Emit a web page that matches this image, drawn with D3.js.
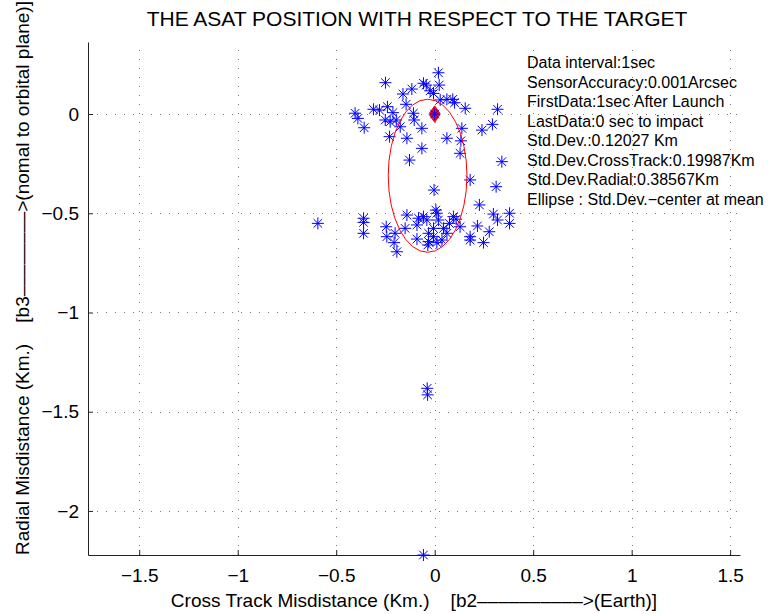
<!DOCTYPE html>
<html>
<head>
<meta charset="utf-8">
<script src="https://cdn.jsdelivr.net/npm/d3@7"></script>
<style>
html,body{margin:0;padding:0;background:#fff;}
svg{display:block;font-family:"Liberation Sans",Arial,Helvetica,sans-serif;}
svg text{white-space:pre;}
</style>
</head>
<body>
<svg id="chart" width="776" height="614"></svg>
<script>
// ---- data ----
const crossTrack = [
 0.019,-0.250,-0.057,-0.043,0.023,-0.116,-0.161,-0.023,-0.006,0.028,0.062,0.092,0.101,0.155,0.319,
 -0.145,-0.311,-0.404,-0.390,-0.358,-0.280,-0.240,-0.212,-0.251,-0.226,-0.195,-0.175,-0.229,-0.141,
 -0.108,-0.104,-0.065,-0.065,-0.128,0.000,0.138,0.062,0.133,0.129,0.240,0.293,0.341,0.180,-0.003,0.312,0.227,
 -0.593,-0.361,-0.361,-0.361,-0.246,-0.243,-0.201,-0.206,-0.192,-0.141,-0.150,-0.082,-0.090,-0.090,
 -0.040,-0.031,-0.031,-0.006,0.006,0.011,0.019,-0.006,0.037,0.045,0.062,0.075,0.095,0.109,0.129,
 0.180,0.180,0.217,0.277,0.248,0.298,0.319,0.380,0.380,-0.035,0.011,-0.057,
 -0.038,-0.036,-0.057
];
const radial = [
 0.208,0.158,0.155,0.146,0.146,0.126,0.101,0.117,0.104,0.071,0.074,0.074,0.057,0.029,0.024,
 0.049,0.024,0.004,-0.022,-0.069,0.020,0.037,0.007,-0.030,-0.039,-0.030,-0.064,-0.114,-0.122,
 0.004,-0.030,-0.072,-0.173,-0.232,0.000,-0.072,-0.122,-0.135,-0.198,-0.081,-0.052,-0.240,-0.332,-0.383,-0.366,-0.458,
 -0.551,-0.525,-0.546,-0.601,-0.568,-0.618,-0.601,-0.648,-0.694,-0.509,-0.576,-0.525,-0.559,-0.630,
 -0.534,-0.601,-0.643,-0.576,-0.484,-0.500,-0.534,-0.618,-0.635,-0.576,-0.601,-0.551,-0.517,-0.530,-0.568,
 -0.618,-0.635,-0.564,-0.593,-0.648,-0.504,-0.534,-0.500,-0.551,-0.660,-0.648,-0.517,
 -1.382,-1.415,-2.222
];
const targetX = [0, 0];
const targetY = [0.006, -0.006];
const ellipseCenter = [-0.036, -0.311];
const stdCrossTrack = 0.19987;
const stdRadial = 0.38567;
const xTicks = [-1.5,-1,-0.5,0,0.5,1,1.5];
const yTicks = [0,-0.5,-1,-1.5,-2];
const xDomain = [-1.76, 1.55];
const yDomain = [-2.222, 0.363];
const infoLines = [
 "Data interval:1sec",
 "SensorAccuracy:0.001Arcsec",
 "FirstData:1sec After Launch",
 "LastData:0 sec to impact",
 "Std.Dev.:0.12027 Km",
 "Std.Dev.CrossTrack:0.19987Km",
 "Std.Dev.Radial:0.38567Km",
 "Ellipse : Std.Dev.\u2212center at mean"
];
const titleText = "THE ASAT POSITION WITH RESPECT TO THE TARGET";
const xLabel = "Cross Track Misdistance (Km.)    [b2\u2013\u2013\u2013\u2013\u2013\u2013\u2013\u2013\u2013\u2013>(Earth)]";
const yLabel = "Radial Misdistance (Km.)    [b3\u2013\u2013\u2013\u2013\u2013\u2013\u2013\u2013>(nomal to orbital plane)]";

// ---- layout ----
const L = 88, R = 740, T = 42, B = 555;
const svg = d3.select("#chart");
const x = d3.scaleLinear().domain(xDomain).range([L, R]);
const y = d3.scaleLinear().domain(yDomain).range([B, T]);
const fmt = d => d === 0 ? "0" : (d < 0 ? "\u2212" + Math.abs(d) : String(d));

// grid
const grid = svg.append("g").attr("stroke", "#7a7a7a").attr("stroke-width", 1)
  .attr("stroke-dasharray", "1,8");
grid.selectAll("line.vx").data(xTicks).join("line")
  .attr("x1", d => Math.round(x(d)) + 0.5).attr("x2", d => Math.round(x(d)) + 0.5)
  .attr("y1", B).attr("y2", T);
grid.selectAll("line.hy").data(yTicks).join("line")
  .attr("y1", d => Math.round(y(d)) + 0.5).attr("y2", d => Math.round(y(d)) + 0.5)
  .attr("x1", L).attr("x2", R);

// axes
const xAxis = d3.axisBottom(x).tickValues(xTicks).tickSizeInner(-5).tickSizeOuter(0).tickPadding(14).tickFormat(fmt);
const yAxis = d3.axisLeft(y).tickValues(yTicks).tickSizeInner(-5).tickSizeOuter(0).tickPadding(9).tickFormat(fmt);
const gx = svg.append("g").attr("transform", `translate(0,${B})`).call(xAxis);
const gy = svg.append("g").attr("transform", `translate(${L},0)`).call(yAxis);
[gx, gy].forEach(g => {
  g.select(".domain").attr("stroke", "#222").attr("stroke-width", 1);
  g.selectAll(".tick line").attr("stroke", "#222");
  g.selectAll(".tick text").attr("fill", "#000").style("font-size", "19px")
    .style("font-family", "'Liberation Sans',Arial,sans-serif");
});

// plot area clip
svg.append("clipPath").attr("id", "clip").append("rect")
  .attr("x", L - 8).attr("y", T - 8).attr("width", R - L + 16).attr("height", B - T + 16);
const plot = svg.append("g").attr("clip-path", "url(#clip)");

// target diamonds
plot.selectAll("path.target").data(targetX.map((d, i) => [d, targetY[i]])).join("path")
  .attr("d", "M0,-7L5,0L0,7L-5,0Z")
  .attr("transform", d => `translate(${x(d[0])},${y(d[1])})`)
  .attr("fill", "#ee1010").attr("stroke", "#ff0000").attr("stroke-width", 1);

// asterisk markers
const star = "M-6,0H6M0,-6V6M-4.3,-4.3L4.3,4.3M-4.3,4.3L4.3,-4.3";
plot.selectAll("path.pt").data(crossTrack.map((d, i) => [d, radial[i]])).join("path")
  .attr("d", star)
  .attr("transform", d => `translate(${x(d[0])},${y(d[1])})`)
  .attr("fill", "none").attr("stroke", "#0000ff").attr("stroke-width", 1);

// ellipse
plot.append("ellipse")
  .attr("cx", x(ellipseCenter[0])).attr("cy", y(ellipseCenter[1]))
  .attr("rx", x(ellipseCenter[0] + stdCrossTrack) - x(ellipseCenter[0]))
  .attr("ry", y(ellipseCenter[1]) - y(ellipseCenter[1] + stdRadial))
  .attr("fill", "none").attr("stroke", "#ff0000").attr("stroke-width", 1);

// info text
svg.append("g").selectAll("text").data(infoLines).join("text")
  .attr("x", 527).attr("y", (d, i) => 68 + i * 19.5)
  .style("font-size", "16px").attr("fill", "#000").text(d => d);

// title and labels
svg.append("text").attr("x", (L + R) / 2 + 3).attr("y", 26).attr("text-anchor", "middle")
  .style("font-size", "21px").text(titleText);
svg.append("text").attr("x", (L + R) / 2).attr("y", 607).attr("text-anchor", "middle")
  .style("font-size", "19px").text(xLabel);
svg.append("text").attr("transform", `translate(29,278) rotate(-90)`)
  .attr("text-anchor", "middle").style("font-size", "19px").text(yLabel);
</script>
</body>
</html>
